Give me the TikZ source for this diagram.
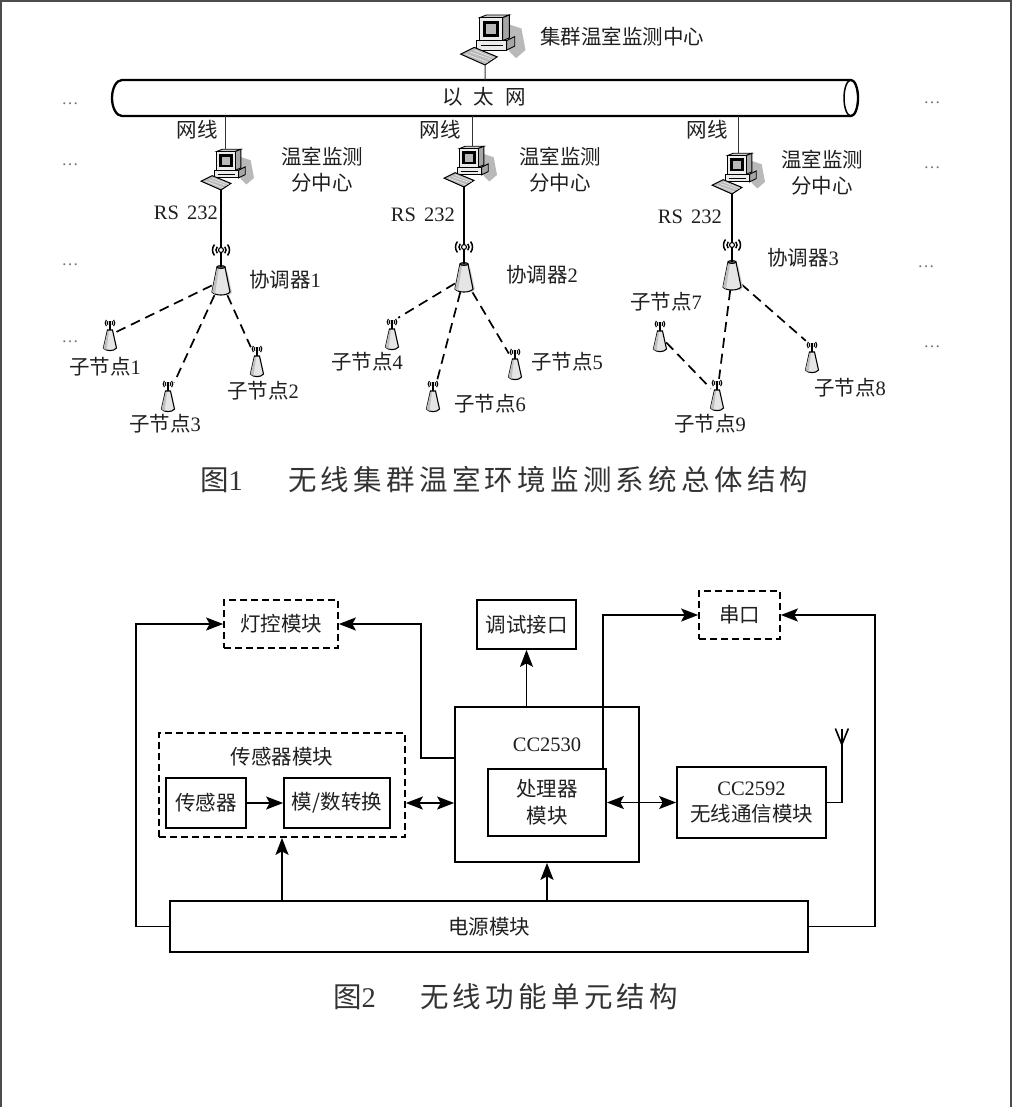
\documentclass[tikz,border=0pt]{standalone}
\usepackage{fontspec}
\setmainfont{Liberation Serif}
\newfontfamily\cjk{Noto Sans CJK SC}
\newfontfamily\capcjk[LetterSpace=15]{Noto Sans CJK SC}
\usetikzlibrary{arrows.meta,calc}
\newcommand\zh[1]{{\cjk #1}}
\tikzset{
  pcicon/.pic={
    \fill[gray!55] (33,6) -- (45,10) -- (48,26) -- (41,32) -- (36,27) -- cycle;
    \filldraw[fill=gray!40,line width=0.9] (14,2) -- (19,0) -- (36,0) -- (31,2) -- cycle;
    \filldraw[fill=gray!70,line width=0.9] (31,2) -- (36,0) -- (36,17) -- (31,19) -- cycle;
    \filldraw[fill=gray!15,line width=1] (14,2) rectangle (31,19);
    \fill[black] (16.5,4.5) rectangle (28.5,16.5);
    \fill[gray!55] (18.7,6.7) rectangle (26.3,14.3);
    \filldraw[fill=gray!70,line width=0.9] (34,19) -- (40,16) -- (40,23) -- (34,26) -- cycle;
    \filldraw[fill=gray!15,line width=1] (12,19) rectangle (34,26);
    \draw[line width=0.8] (15,22.5) -- (31,22.5);
    \filldraw[fill=gray!55,line width=1] (0,29) -- (10,24) -- (27,31) -- (18,37) -- cycle;
    \draw[line width=0.6,gray!15] (4,29) -- (20,35) (7,27.5) -- (23,33) (10,26) -- (25,32);
    \coordinate (-in) at (22,0);
    \coordinate (-out) at (18,37);
  },
  coordpic/.pic={
    \foreach \r in {5,8.5}{
      \draw[line width=1.5] (140:\r) arc[start angle=140,end angle=220,radius=\r];
      \draw[line width=1.5] (-40:\r) arc[start angle=-40,end angle=40,radius=\r];
    }
    \draw[line width=1.4] (0,2.5) -- (0,17);
    \fill[gray!35] (6,20) -- (11,42) -- (8,46) -- (4,40) -- cycle;
    \filldraw[fill=gray!20,line width=1.1] (-4,17) -- (-9,42) .. controls (-6,46) and (6,46) .. (9,42) -- (4,17) -- cycle;
    \fill[gray!50] (-4,18) -- (-9,42) .. controls (-8,43.5) .. (-6,44) -- (-2,18) -- cycle;
    \draw[line width=0.9] (0,17) ellipse[x radius=4,y radius=1.5];
    \filldraw[fill=white,line width=1.1] (0,0) circle[radius=2.5];
    \coordinate (-sig) at (0,-2.5);
  },
  subpic/.pic={
    \foreach \r in {2.7,4.8}{
      \draw[line width=1.1] ($(0,-12)+(140:\r)$) arc[start angle=140,end angle=220,radius=\r];
      \draw[line width=1.1] ($(0,-12)+(-40:\r)$) arc[start angle=-40,end angle=40,radius=\r];
    }
    \draw[line width=1.1] (0,-14) -- (0,-5);
    \filldraw[fill=gray!20,line width=1.1] (-2.5,-5) -- (-6.5,13) .. controls (-4,16.5) and (4,16.5) .. (6.5,13) -- (2.5,-5) -- cycle;
    \fill[gray!50] (-2.5,-4) -- (-6.5,13) .. controls (-5,14.5) .. (-3.5,15) -- (-1,-4) -- cycle;
  }
}
\begin{document}
\begin{tikzpicture}[x=1pt,y=-1pt,
  lbl/.style={font=\fontsize{20.5}{26}\selectfont,inner sep=0pt,text=black!88},
  dots/.style={font=\fontsize{17}{18}\selectfont,inner sep=0pt,text=black!55},
  captxt/.style={font=\fontsize{28.5}{30}\selectfont,inner sep=0pt,text=black!80},
  hit/.style={inner sep=0pt,draw=none},
  thinl/.style={line width=1,black!80},
  thickl/.style={line width=1.8},
  dl/.style={line width=1.7,dash pattern=on 10pt off 6pt},
  box/.style={draw,line width=1.7,inner sep=0pt,align=center,font=\fontsize{20.5}{26}\selectfont,text=black!88},
  dbox/.style={box,dash pattern=on 7pt off 4pt},
  tip/.tip={Stealth[length=17pt,width=13pt,inset=3.5pt]},
  arr/.style={line width=1.6,-tip},
  darr/.style={line width=1.6,tip-tip}
]
\useasboundingbox (0,0) rectangle (1014,1107);
\fill[white] (0,0) rectangle (1014,1107);
% frame
\draw[line width=2,black!70] (1,1110) -- (1,1) -- (1011,1) -- (1011,1110);

% ================= Figure 1 =================
% ethernet tube
\draw[line width=2.3] (122,80) -- (851,80) arc[start angle=-90,end angle=90,x radius=7,y radius=18]
  -- (122,116) arc[start angle=90,end angle=270,x radius=10,y radius=18] -- cycle;
\draw[line width=1.5] (851,98) ellipse[x radius=7,y radius=18];
\node[lbl] (eth) at (484,97) {\zh{以}\hspace{11pt}\zh{太}\hspace{11pt}\zh{网}};
\coordinate (t0) at (485,80);
\coordinate (t1) at (225,116);
\coordinate (t2) at (472,116);
\coordinate (t3) at (738,116);

% top computer
\pic[scale=1.35] (pc0) at (460.7,15) {pcicon};
\node[lbl,anchor=west] (title) at (540,37) {\zh{集群温室监测中心}};
\draw[thinl] (pc0-out) -- (t0);

% branch computers
\pic[scale=1.1] (pc1) at (201.2,149.3) {pcicon};
\pic[scale=1.1] (pc2) at (444.2,146.3) {pcicon};
\pic[scale=1.1] (pc3) at (712.2,153.3) {pcicon};
\draw[thinl] (t1) -- (t1 |- pc1-in);
\draw[thinl] (t2) -- (t2 |- pc2-in);
\draw[thinl] (t3) -- (t3 |- pc3-in);

\node[lbl,anchor=east] (w1) at (218,130) {\zh{网线}};
\node[lbl,anchor=east] (w2) at (461,130) {\zh{网线}};
\node[lbl,anchor=east] (w3) at (728,130) {\zh{网线}};
\node[lbl,align=center] (s1) at (322,170) {\zh{温室监测}\\\zh{分中心}};
\node[lbl,align=center] (s2) at (560,170) {\zh{温室监测}\\\zh{分中心}};
\node[lbl,align=center] (s3) at (822,173) {\zh{温室监测}\\\zh{分中心}};
\node[lbl,anchor=east] (r1) at (218,213) {RS\hspace{8pt}232};
\node[lbl,anchor=east] (r2) at (455,215) {RS\hspace{8pt}232};
\node[lbl,anchor=east] (r3) at (722,217) {RS\hspace{8pt}232};

% coordinators
\node[hit,minimum width=18pt,minimum height=28pt] (c1) at (221,281) {};
\node[hit,minimum width=18pt,minimum height=28pt] (c2) at (464,278) {};
\node[hit,minimum width=18pt,minimum height=28pt] (c3) at (732,276) {};
\node[lbl] (k1) at (285,280) {\zh{协调器}1};
\node[lbl] (k2) at (542,275) {\zh{协调器}2};
\node[lbl] (k3) at (803,258) {\zh{协调器}3};

% sub nodes
\foreach \n/\x/\y in {n1/110/335,n3/168/396,n2/257/361,n4/392/334,n6/433/396,n5/515/364,n7/660/336,n9/717/395,n8/812/357}{
  \node[hit,minimum width=12pt,minimum height=32pt] (\n) at (\x,\y) {};
}
\draw[dl] (c1) -- (n1);
\draw[dl] (c1) -- (n3);
\draw[dl] (c1) -- (n2);
\draw[dl] (c2) -- (n4.north east);
\draw[dl] (c2) -- (n6);
\draw[dl] (c2) -- (n5);
\draw[dl] (c3) -- (n9);
\draw[dl] (c3) -- (n8.north west);
\draw[dl] (n7) -- (n9);

\pic (k1p) at (221,250) {coordpic};
\pic (k2p) at (464,247) {coordpic};
\pic (k3p) at (732,245) {coordpic};
\draw[thickl] (pc1-out) -- (k1p-sig);
\draw[thickl] (pc2-out) -- (k2p-sig);
\draw[thickl] (pc3-out) -- (k3p-sig);

\foreach \n in {n1,n2,n3,n4,n5,n6,n7,n8,n9}{ \pic at (\n) {subpic}; }

\node[lbl] (l1) at (105,367) {\zh{子节点}1};
\node[lbl] (l3) at (165,424) {\zh{子节点}3};
\node[lbl] (l2) at (263,391) {\zh{子节点}2};
\node[lbl] (l4) at (367,362) {\zh{子节点}4};
\node[lbl] (l6) at (490,404) {\zh{子节点}6};
\node[lbl] (l5) at (567,362) {\zh{子节点}5};
\node[lbl] (l7) at (666,302) {\zh{子节点}7};
\node[lbl] (l9) at (710,424) {\zh{子节点}9};
\node[lbl] (l8) at (850,388) {\zh{子节点}8};

% ellipses
\foreach \y [count=\i] in {104,165,265,342}{ \node[dots] (dl\i) at (70,\y) {\dots}; }
\node[dots] (dr1) at (932,103) {\dots};
\node[dots] (dr2) at (932,168) {\dots};
\node[dots] (dr3) at (926,267) {\dots};
\node[dots] (dr4) at (932,347) {\dots};

% caption 1
\node[captxt,anchor=west] (f1a) at (200,480) {{\capcjk 图}1};
\node[captxt,anchor=west] (f1b) at (288,480) {\capcjk 无线集群温室环境监测系统总体结构};

% ================= Figure 2 =================
\node[dbox,minimum width=114pt,minimum height=48pt] (dk) at (281,624) {\zh{灯控模块}};
\node[box,minimum width=99pt,minimum height=49pt] (ts) at (526.5,624.5) {\zh{调试接口}};
\node[dbox,minimum width=81pt,minimum height=48pt] (ck) at (739.5,615) {\zh{串口}};
\node[dbox,minimum width=246pt,minimum height=104pt] (sm) at (282,785) {};
\node[lbl] (smt) at (282,757) {\zh{传感器模块}};
\node[box,minimum width=80pt,minimum height=50pt] (se) at (206,803) {\zh{传感器}};
\node[box,minimum width=106pt,minimum height=50pt] (ad) at (337,803) {\zh{模/数转换}};
\node[box,minimum width=184pt,minimum height=155pt] (cc) at (547,784.5) {};
\node[lbl] (cct) at (547,745) {CC2530};
\node[box,minimum width=118pt,minimum height=67pt,font=\fontsize{20.5}{27}\selectfont] (pr) at (547,802.5) {\zh{处理器}\\\zh{模块}};
\node[box,minimum width=149pt,minimum height=71pt,font=\fontsize{20.5}{26}\selectfont] (rf) at (751.5,802.5) {CC2592\\\zh{无线通信模块}};
\node[box,minimum width=638pt,minimum height=51pt] (pw) at (489,926.5) {\zh{电源模块}};

\draw[arr] (pw.west) -- ++(-33,0) |- (dk.west);
\draw[arr] ($(cc.north west)+(0,52)$) -- ++(-33,0) |- (dk.east);
\draw[arr] (cc.north -| ts) -- (ts.south);
\draw[arr] ($(pr.north east)+(-4,0)$) |- (ck.west);
\draw[arr] (pw.east) -- ++(66,0) |- (ck.east);
\draw[arr] (se) -- (ad);
\draw[darr] (sm.east |- ad) -- (cc.west |- ad);
\draw[darr] (pr.east |- rf) -- (rf.west);
\draw[arr] (pw.north -| sm) -- (sm.south);
\draw[arr] (pw.north -| cc) -- (cc.south);
% antenna
\draw[line width=1.6] (rf.east) -- ++(15,0) coordinate (ant) -- ++(0,-74) coordinate (anttop);
\draw[line width=1.6] ($(ant)+(0,-58)$) -- ($(anttop)+(-6.5,0)$);
\draw[line width=1.6] ($(ant)+(0,-58)$) -- ($(anttop)+(6.5,0)$);

% caption 2
\node[captxt,anchor=west] (f2a) at (333,997) {{\capcjk 图}2};
\node[captxt,anchor=west] (f2b) at (420,997) {\capcjk 无线功能单元结构};
\end{tikzpicture}
\end{document}
